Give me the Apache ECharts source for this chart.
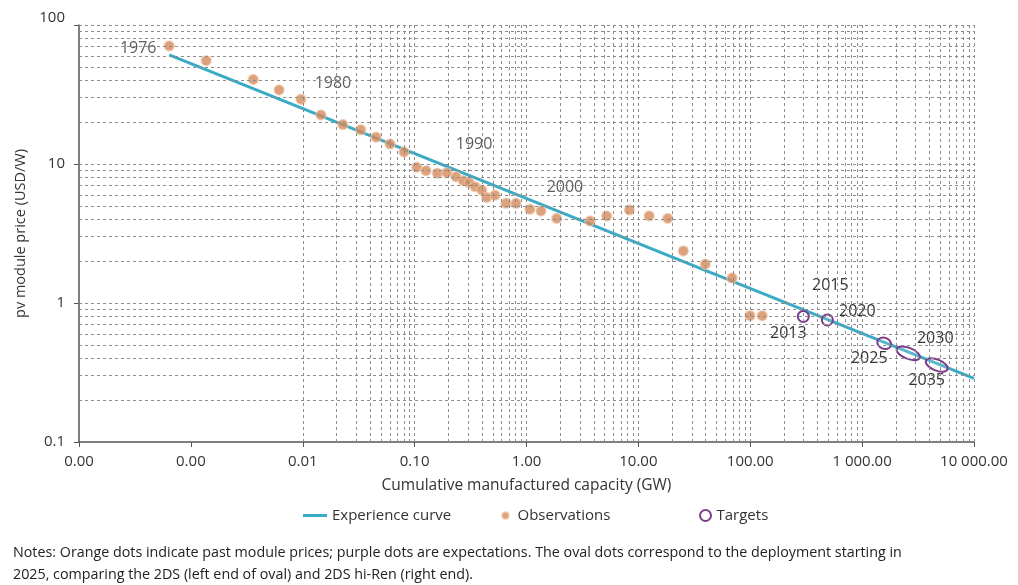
<!DOCTYPE html>
<html>
<head>
<meta charset="utf-8">
<script src="https://cdn.jsdelivr.net/npm/echarts@6/dist/echarts.min.js"></script>
<style>
html,body{margin:0;padding:0;background:#fff;}
#c{width:1018px;height:585px;}
</style>
</head>
<body>
<div id="c"></div>
<script>
// ---- tick labels ----
const xTickLabels = ['0.00','0.00','0.01','0.10','1.00','10.00','100.00','1 000.00','10 000.00'];
const yTickLabels = ['0.1','1','10','100'];

// ---- experience curve (GW, USD/W) ----
const expCapacity = [0.00064, 10000];
const expPrice = [61, 0.287];

// ---- observations (GW, USD/W) ----
const obsCapacity = [0.00064, 0.00137, 0.00361, 0.00614, 0.00964, 0.01455, 0.0228, 0.033, 0.0452, 0.0603,
  0.0804, 0.1045, 0.1265, 0.1596, 0.1936, 0.2344, 0.2723, 0.3083, 0.3465, 0.398,
  0.4406, 0.5227, 0.656, 0.806, 1.074, 1.348, 1.862, 3.70, 5.21, 8.30,
  12.5, 18.3, 25.2, 39.7, 68.7, 99.6, 128];
const obsPrice = [70.6, 55.4, 40.6, 34.1, 29.2, 22.5, 19.2, 17.6, 15.6, 13.9,
  12.2, 9.47, 8.96, 8.57, 8.66, 8.11, 7.59, 7.33, 6.87, 6.50,
  5.75, 5.96, 5.21, 5.21, 4.72, 4.59, 4.06, 3.89, 4.23, 4.67,
  4.23, 4.06, 2.37, 1.90, 1.51, 0.811, 0.811];
const obsYearLabels = ['1976','1980','1990','2000'];
const obsYearIndex = [0, 4, 10, 24];

// ---- targets: left end (2DS) and right end (2DS hi-Ren) ----
const targetNames = ['2013','2020','2025','2030','2035'];
const targetCapLow = [298, 489, 1528, 2270, 4130];
const targetPriceLow = [0.80, 0.755, 0.518, 0.453, 0.372];
const targetCapHigh = [298, 489, 1626, 2943, 5212];
const targetPriceHigh = [0.80, 0.755, 0.508, 0.417, 0.345];
const targetLabels = [['2013'], ['2015','2020'], ['2025'], ['2030'], ['2035']];

// ---- layout (pixel offsets of annotation text) ----
const obsLabelOffsets = [[-31,2],[32,-16],[70,-8],[35,-22]];
const targetLabelOffsets = [[[-15,17]], [[3,-35],[30,-9]], [[-15,15]], [[27,-15]], [[-10,15]]];

const FONT = '"Open Sans", sans-serif';
const TEAL = '#3aabc6';
const ORANGE = '#d4895a';
const PURPLE = '#7d3c8c';

// log grid lines (1..9 x 10^d)
const gridLines = [];
for (let d = -4; d <= 3; d++) {
  for (let k = 1; k <= 9; k++) {
    const v = k * Math.pow(10, d);
    if (v > 0.00011) gridLines.push({xAxis: v});
  }
}
gridLines.push({xAxis: 10000});
for (let d = -1; d <= 1; d++) {
  for (let k = 1; k <= 9; k++) {
    const v = k * Math.pow(10, d);
    if (v > 0.11) gridLines.push({yAxis: v});
  }
}
gridLines.push({yAxis: 100});

const obsData = obsCapacity.map((x, i) => {
  const item = {value: [x, obsPrice[i]]};
  const li = obsYearIndex.indexOf(i);
  if (li >= 0) {
    item.label = {show: true, formatter: obsYearLabels[li], position: 'inside',
      offset: obsLabelOffsets[li], color: '#333', fontSize: 16, fontFamily: FONT};
  }
  return item;
});

const targetData = targetNames.map((n, i) => [targetCapLow[i], targetPriceLow[i], targetCapHigh[i], targetPriceHigh[i]]);

const legendText = {fontSize: 15, color: '#333', fontFamily: FONT};

const chart = echarts.init(document.getElementById('c'));
chart.setOption({
  animation: false,
  backgroundColor: '#fff',
  grid: {left: 79, right: 44, top: 25, bottom: 143, containLabel: false},
  title: {
    text: 'Notes: Orange dots indicate past module prices; purple dots are expectations. The oval dots correspond to the deployment starting in\n2025, comparing the 2DS (left end of oval) and 2DS hi-Ren (right end).',
    left: 8, top: 537,
    textStyle: {fontSize: 14.3, fontWeight: 'normal', color: '#222', lineHeight: 22, fontFamily: FONT}
  },
  legend: [
    {data: [{name: 'Experience curve', icon: 'rect', itemStyle: {color: TEAL}}],
      left: 298, top: 503, itemWidth: 24, itemHeight: 3,
      textStyle: legendText},
    {data: ['Observations'], left: 496, top: 503, itemWidth: 14, itemHeight: 7,
      textStyle: legendText},
    {data: [{name: 'Targets', icon: 'circle', itemStyle: {color: '#fff', borderColor: PURPLE, borderWidth: 2}}],
      left: 694, top: 503, itemWidth: 12, itemHeight: 11,
      textStyle: legendText}
  ],
  xAxis: {
    type: 'log', logBase: 10, min: 0.0001, max: 10000, splitNumber: 8,
    axisLine: {show: true, onZero: false, lineStyle: {color: '#555', width: 1.5}},
    axisTick: {show: true, length: 5, lineStyle: {color: '#555'}},
    axisLabel: {formatter: v => xTickLabels[Math.round(Math.log10(v)) + 4], margin: 12,
      color: '#333', fontSize: 15, fontFamily: FONT},
    splitLine: {show: false},
    name: 'Cumulative manufactured capacity (GW)', nameLocation: 'middle', nameGap: 36,
    nameTextStyle: {fontSize: 15.5, color: '#333', fontFamily: FONT}
  },
  yAxis: {
    type: 'log', logBase: 10, min: 0.1, max: 100, splitNumber: 3,
    axisLine: {show: true, onZero: false, lineStyle: {color: '#555', width: 1.5}},
    axisTick: {show: true, length: 5, lineStyle: {color: '#555'}},
    axisLabel: {
      formatter: v => {
        const idx = Math.round(Math.log10(v)) + 1;
        return idx === yTickLabels.length - 1 ? '{top|' + yTickLabels[idx] + '}' : yTickLabels[idx];
      },
      rich: {top: {padding: [0, 0, 14, 0], fontSize: 15, color: '#333', fontFamily: FONT}},
      margin: 14, color: '#333', fontSize: 15, fontFamily: FONT
    },
    splitLine: {show: false},
    name: 'pv module price (USD/W)', nameLocation: 'middle', nameGap: 38,
    nameTextStyle: {fontSize: 14.5, color: '#333', fontFamily: FONT}
  },
  series: [
    {
      name: 'grid', type: 'line', data: [], z: 0, silent: true,
      markLine: {
        silent: true, symbol: ['none', 'none'], animation: false,
        label: {show: false},
        lineStyle: {color: '#8c8c8c', type: [3, 3], width: 1},
        emphasis: {disabled: true},
        data: gridLines
      }
    },
    {
      name: 'Experience curve', type: 'line', z: 2, symbol: 'none',
      lineStyle: {color: TEAL, width: 3}, itemStyle: {color: TEAL},
      data: expCapacity.map((x, i) => [x, expPrice[i]])
    },
    {
      name: 'Observations', type: 'scatter', z: 3, symbolSize: 10,
      itemStyle: {color: ORANGE, borderColor: 'rgba(240,200,170,0.8)', borderWidth: 1.5},
      data: obsData
    },
    {
      name: 'Targets', type: 'custom', z: 4,
      itemStyle: {color: PURPLE},
      encode: {x: [0, 2], y: [1, 3]},
      data: targetData,
      renderItem: function (params, api) {
        const i = params.dataIndex;
        const p1 = api.coord([api.value(0), api.value(1)]);
        const p2 = api.coord([api.value(2), api.value(3)]);
        const cx = (p1[0] + p2[0]) / 2, cy = (p1[1] + p2[1]) / 2;
        const dx = p2[0] - p1[0], dy = p2[1] - p1[1];
        const half = Math.hypot(dx, dy) / 2;
        const ang = Math.atan2(dy, dx);
        const children = [{
          type: 'ellipse', x: cx, y: cy, rotation: -ang,
          shape: {cx: 0, cy: 0, rx: half + 5.5, ry: 5.5},
          style: {fill: 'rgba(255,255,255,0.15)', stroke: PURPLE, lineWidth: 2}
        }];
        targetLabels[i].forEach((t, j) => {
          const off = targetLabelOffsets[i][j];
          children.push({
            type: 'text', x: cx + off[0], y: cy + off[1],
            style: {text: t, fill: '#333', font: '16px ' + FONT, align: 'center', verticalAlign: 'middle'}
          });
        });
        return {type: 'group', children: children};
      }
    }
  ]
});
</script>
</body>
</html>
